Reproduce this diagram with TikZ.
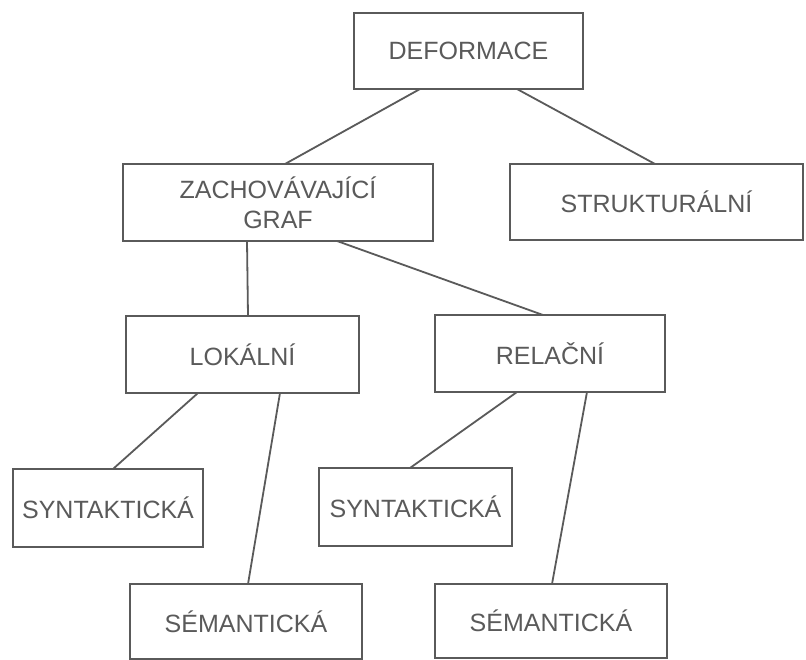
\documentclass[tikz,border=0pt]{standalone}
\usepackage{fontspec}
\setmainfont{Liberation Sans}
\definecolor{pencil}{HTML}{5A5A5A}
\tikzset{
  boxnode/.style={draw=pencil, line width=1.8pt, inner sep=0pt, outer sep=0pt,
    text=pencil, font=\fontsize{25}{30}\selectfont, align=center},
  link/.style={draw=pencil, line width=1.8pt}
}
\begin{document}
\begin{tikzpicture}[x=1pt,y=-1pt]
\useasboundingbox[fill=white] (0,0) rectangle (806,660);
% boxes: centre, width, height from the reference
\node[boxnode, minimum width=229pt, minimum height=76pt] (def)  at (468.5,51)  {DEFORMACE};
\node[boxnode, minimum width=310pt, minimum height=77pt] (zach) at (278,202.5) {ZACHOVÁVAJÍCÍ\\GRAF};
\node[boxnode, minimum width=293pt, minimum height=76pt] (str)  at (656.5,202) {STRUKTURÁLNÍ};
\node[boxnode, minimum width=233pt, minimum height=77pt] (lok)  at (242.5,354.5) {LOKÁLNÍ};
\node[boxnode, minimum width=230pt, minimum height=77pt] (rel)  at (550,353.5) {RELAČNÍ};
\node[boxnode, minimum width=190pt, minimum height=78pt] (syn1) at (108,508)   {SYNTAKTICKÁ};
\node[boxnode, minimum width=193pt, minimum height=78pt] (syn2) at (415.5,507) {SYNTAKTICKÁ};
\node[boxnode, minimum width=232pt, minimum height=75pt] (sem1) at (246,621.5) {SÉMANTICKÁ};
\node[boxnode, minimum width=232pt, minimum height=74pt] (sem2) at (551,621)   {SÉMANTICKÁ};
% connectors
\draw[link] ([xshift=-48.5pt]def.south) -- ([xshift=7pt]zach.north);
\draw[link] ([xshift=48.5pt]def.south)  -- ([xshift=-1.5pt]str.north);
\draw[link] ([xshift=-31pt]zach.south)  -- ([xshift=5.5pt]lok.north);
\draw[link] ([xshift=59pt]zach.south)   -- ([xshift=-7pt]rel.north);
\draw[link] ([xshift=-44.5pt]lok.south) -- ([xshift=5pt]syn1.north);
\draw[link] ([xshift=37.5pt]lok.south)  -- ([xshift=2pt]sem1.north);
\draw[link] ([xshift=-33pt]rel.south)   -- ([xshift=-5.5pt]syn2.north);
\draw[link] ([xshift=37pt]rel.south)    -- ([xshift=1pt]sem2.north);
\end{tikzpicture}
\end{document}
